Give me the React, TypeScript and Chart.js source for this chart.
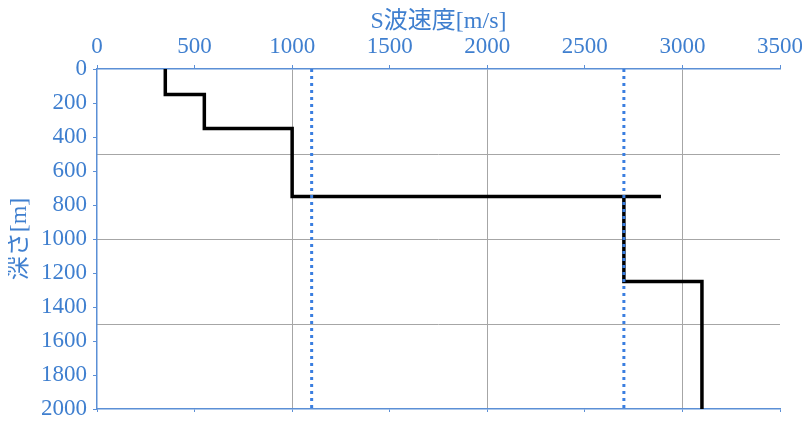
import { useEffect, useRef } from "react";
import { Chart, registerables } from "chart.js";

Chart.register(...registerables);

// S-wave velocity profile (step line), depth in m
const profileVs = [350, 350, 550, 550, 1000, 1000, 2890, 2700, 2700, 3100, 3100];
const profileDepth = [0, 150, 150, 350, 350, 750, 750, 750, 1250, 1250, 2000];

// dotted reference velocities
const refVs = [1100, 2700];
const refDepth = [0, 2000];

const blueText = "#3f7fcf";
const axisBlue = "#5b8fd6";
const gridGray = "#a6a6a6";
const serif = "'Liberation Serif', 'Times New Roman', serif";
const titleFont = "'Liberation Serif', 'Noto Sans CJK JP', serif";

export default function App() {
  const chartRef = useRef<HTMLCanvasElement>(null);
  const chartInstanceRef = useRef<Chart | null>(null);

  useEffect(() => {
    if (!chartRef.current) return;
    if (chartInstanceRef.current) chartInstanceRef.current.destroy();
    const ctx = chartRef.current.getContext("2d");
    if (!ctx) return;

    const refSets = refVs.map((v) => ({
      label: `ref ${v}`,
      data: refDepth.map((d) => ({ x: v, y: d })),
      borderColor: "#3a7ee0",
      borderWidth: 3,
      borderDash: [3, 4],
      pointRadius: 0,
      fill: false,
    }));

    const noPad = (s: any) => {
      s.paddingLeft = 0;
      s.paddingRight = 0;
      s.paddingTop = 0;
      s.paddingBottom = 0;
    };

    chartInstanceRef.current = new Chart(ctx, {
      type: "line",
      data: {
        datasets: [
          ...refSets,
          {
            label: "Vs",
            data: profileVs.map((v, i) => ({ x: v, y: profileDepth[i] })),
            borderColor: "#000000",
            borderWidth: 3.5,
            pointRadius: 0,
            fill: false,
            tension: 0,
          },
        ],
      },
      options: {
        responsive: true,
        maintainAspectRatio: false,
        animation: false,
        layout: { padding: { left: 0, right: 22, top: 0, bottom: 0 } },
        plugins: { legend: { display: false }, tooltip: { enabled: false } },
        scales: {
          x: {
            type: "linear",
            position: "top",
            min: 0,
            max: 3500,
            ticks: {
              stepSize: 500,
              color: blueText,
              font: { family: serif, size: 23 },
              padding: 4,
              maxRotation: 0,
              callback: (v: any) => String(v),
            },
            grid: {
              color: (c: any) =>
                c.tick && c.tick.value % 1000 === 0 && c.tick.value !== 0 ? gridGray : "transparent",
              tickColor: axisBlue,
              tickLength: 4,
            },
            border: { color: axisBlue, width: 1.5 },
            title: {
              display: true,
              text: "S波速度[m/s]",
              color: blueText,
              font: { family: titleFont, size: 24, lineHeight: 1 },
              padding: { top: 2, bottom: 0 },
            },
            afterFit: (s: any) => {
              s.height = 61;
              noPad(s);
            },
          },
          x2: {
            type: "linear",
            position: "bottom",
            min: 0,
            max: 3500,
            ticks: { stepSize: 500, display: false },
            grid: { drawOnChartArea: false, tickColor: axisBlue, tickLength: 3 },
            border: { color: axisBlue, width: 1.5 },
            afterFit: (s: any) => {
              s.height = 9;
              noPad(s);
            },
          },
          y: {
            type: "linear",
            reverse: true,
            min: 0,
            max: 2000,
            ticks: {
              stepSize: 200,
              color: blueText,
              font: { family: serif, size: 23 },
              padding: 6,
              callback: (v: any) => String(v),
            },
            grid: { drawOnChartArea: false, tickColor: axisBlue, tickLength: 4 },
            border: { color: axisBlue, width: 1.5 },
            title: {
              display: true,
              text: "深さ[m]",
              color: blueText,
              font: { family: titleFont, size: 24, lineHeight: 1 },
              padding: 0,
            },
            afterFit: (s: any) => {
              s.width = 89;
              noPad(s);
            },
          },
          y2: {
            type: "linear",
            position: "left",
            reverse: true,
            min: 0,
            max: 2000,
            ticks: { stepSize: 500, display: false },
            grid: {
              color: (c: any) =>
                c.tick && c.tick.value !== 0 && c.tick.value !== 2000 ? gridGray : "transparent",
              drawTicks: false,
            },
            border: { display: false },
            afterFit: (s: any) => {
              s.width = 0;
              noPad(s);
            },
          },
        },
      },
    });

    return () => {
      if (chartInstanceRef.current) {
        chartInstanceRef.current.destroy();
        chartInstanceRef.current = null;
      }
    };
  }, []);

  return (
    <div style={{ width: 794, height: 410, position: "relative" }}>
      <canvas ref={chartRef} />
    </div>
  );
}
